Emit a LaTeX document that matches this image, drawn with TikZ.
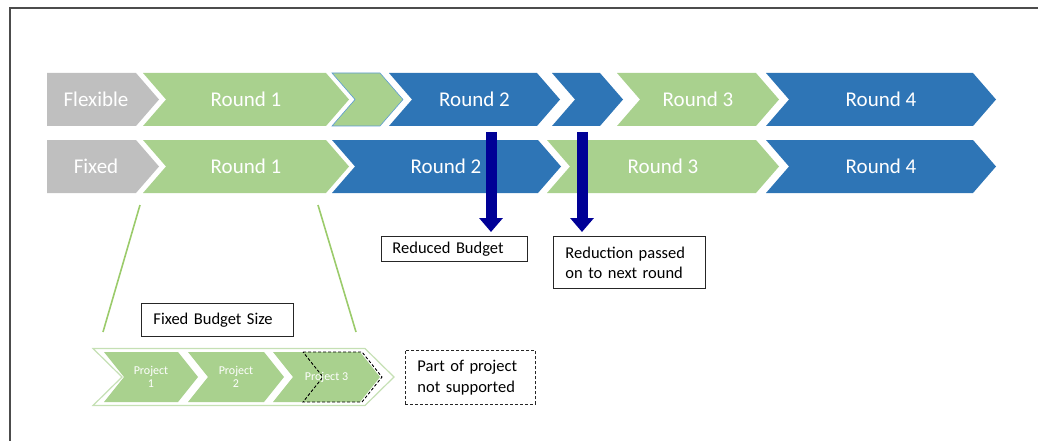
\documentclass[tikz,border=0pt]{standalone}
\usepackage{fontspec}
\setmainfont{Carlito}
\usepackage{tikz}
\usetikzlibrary{calc}
\usetikzlibrary{arrows.meta}
\definecolor{roundgray}{HTML}{BFBFBF}
\definecolor{roundgreen}{HTML}{A9D18E}
\definecolor{roundblue}{HTML}{2E75B6}
\definecolor{edgeblue}{HTML}{5B9BD5}
\definecolor{funnelgreen}{HTML}{9BCB6B}
\definecolor{paleedge}{HTML}{C5E0B4}
\definecolor{navyarrow}{RGB}{0,0,150}

\begin{document}
\begin{tikzpicture}[x=1pt, y=-1pt, thick,
  roundtext/.style={text=white, font=\fontsize{21}{25}\selectfont},
  projtext/.style={text=white, align=center, font=\fontsize{12}{13}\selectfont},
  notebox/.style={draw=black!85, line width=0.9pt, anchor=north west, align=left, inner ysep=2pt, font=\fontsize{16.5}{20}\selectfont},
  cutarrow/.style={navyarrow, line width=11pt, -{Triangle[width=23pt,length=14pt]}, shorten >=4pt}]
\newcommand{\chev}[7]{\path[#1] (#2,#4-#5) -- (#3,#4-#5) -- (#3+#7,#4) -- (#3,#4+#5) -- (#2,#4+#5) -- (#2+#6,#4) -- cycle;}
\useasboundingbox (0,0) rectangle (1038,441);
\draw[black!70, line width=1.2pt] (10,441) -- (10,8) -- (1038,8);
\chev{fill=roundgray}{47}{136}{99.5}{26.5}{0}{23}
\chev{fill=roundgreen}{143}{326}{99.5}{26.5}{23}{23}
\chev{fill=roundgreen, draw=edgeblue, line width=0.6pt}{332}{380}{99.5}{26.5}{23}{23}
\chev{fill=roundblue}{389}{537}{99.5}{26.5}{23}{23}
\chev{fill=roundblue}{552}{600}{99.5}{26.5}{23}{23}
\chev{fill=roundgreen}{617}{756}{99.5}{26.5}{23}{23}
\chev{fill=roundblue}{766}{973}{99.5}{26.5}{23}{23}
\chev{fill=roundgray}{47}{136}{166.5}{26.5}{0}{23}
\chev{fill=roundgreen}{143}{326}{166.5}{26.5}{23}{23}
\chev{fill=roundblue}{332}{538}{166.5}{26.5}{23}{23}
\chev{fill=roundgreen}{547}{756}{166.5}{26.5}{23}{23}
\chev{fill=roundblue}{766}{973}{166.5}{26.5}{23}{23}
\node (flexlabel) [roundtext] at (96,99.5) {Flexible};
\node (flexround1) [roundtext] at (246,99.5) {Round 1};
\node (flexround2) [roundtext] at (474.5,99.5) {Round 2};
\node (flexround3) [roundtext] at (698,99.5) {Round 3};
\node (flexround4) [roundtext] at (881,99.5) {Round 4};
\node (fixlabel) [roundtext] at (96,166.5) {Fixed};
\node (fixround1) [roundtext] at (246,166.5) {Round 1};
\node (fixround2) [roundtext] at (446,166.5) {Round 2};
\node (fixround3) [roundtext] at (663,166.5) {Round 3};
\node (fixround4) [roundtext] at (881,166.5) {Round 4};
\node (reducedbudget) [notebox, minimum width=146pt, minimum height=25pt, text width=124pt, inner xsep=11pt] at (381,236) {Reduced Budget};
\node (passedon) [notebox, minimum width=152pt, minimum height=52pt, text width=128pt, inner xsep=12pt] at (553,236) {Reduction passed\\on to next round};
\node (fixedsize) [notebox, minimum width=152pt, minimum height=33pt, text width=128pt, inner xsep=12pt] at (141,303) {Fixed Budget Size};
\node (notsupported) [notebox, dash pattern=on 3pt off 2pt, minimum width=130pt, minimum height=54pt, text width=106pt, inner xsep=12pt, font=\fontsize{16.5}{21}\selectfont] at (405,350) {Part of project\\not supported};
\coordinate (cut1) at (491,132);
\coordinate (cut2) at (582,132);
\draw[cutarrow] (cut1) -- (cut1 |- reducedbudget.north);
\draw[cutarrow] (cut2) -- (cut2 |- passedon.north);
\coordinate (funneltopl) at (140,205);
\coordinate (funneltopr) at (318,205);
\coordinate (funnelbotl) at (103,332);
\coordinate (funnelbotr) at (356,332);
\draw[funnelgreen, line width=1.6pt] (funneltopl) -- (funnelbotl) (funneltopr) -- (funnelbotr);
\chev{fill=white, draw=paleedge, line width=1.2pt}{93}{365}{377}{28.5}{29}{29}
\chev{fill=roundgreen}{104}{178}{377}{25}{20}{20}
\chev{fill=roundgreen}{188}{264}{377}{25}{20}{20}
\chev{fill=roundgreen}{273}{360}{377}{25}{20}{20}
\chev{draw=black, dash pattern=on 3pt off 2pt, line width=0.9pt}{303}{362}{377}{25}{20}{20}
\node (project1) [projtext] at (151,377) {Project\\1};
\node (project2) [projtext] at (236,377) {Project\\2};
\node (project3) [projtext] at (326.5,377) {Project 3};
\end{tikzpicture}
\end{document}
